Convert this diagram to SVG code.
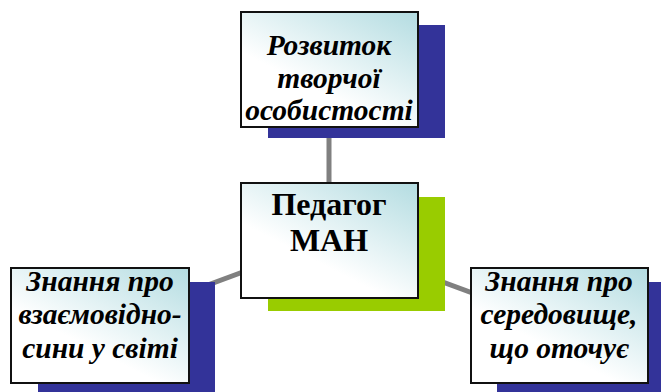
<svg xmlns="http://www.w3.org/2000/svg" width="661" height="392" viewBox="0 0 661 392">
<defs>
<linearGradient id="g" x1="1" y1="0" x2="0.45" y2="0.7">
<stop offset="0" stop-color="#b3dce1"/>
<stop offset="1" stop-color="#ffffff"/>
</linearGradient>
<style>
.box{fill:url(#g);stroke:#111;stroke-width:2}
.blue{fill:#333399}
.green{fill:#99cc00}
.t{font-family:"Liberation Serif",serif;font-weight:bold;font-style:italic;font-size:29.5px;text-anchor:middle;fill:#000}
.c{font-family:"Liberation Serif",serif;font-weight:bold;font-size:32px;text-anchor:middle;fill:#000}
.ln{stroke:#808080;stroke-width:5;fill:none}
</style>
</defs>
<rect width="661" height="392" fill="#fff"/>
<g id="connectors">
<line class="ln" x1="329" y1="70" x2="329" y2="240"/>
<line class="ln" x1="329" y1="240" x2="100" y2="325"/>
<line class="ln" x1="329" y1="240" x2="559" y2="325"/>
</g>
<g id="top">
<rect class="blue" x="268" y="25" width="177" height="113"/>
<rect class="box" x="241" y="12" width="177" height="115"/>
<text class="t" x="329" y="55">Розвиток</text>
<text class="t" x="329" y="88">творчої</text>
<text class="t" x="329" y="120">особистості</text>
</g>
<g id="center">
<rect class="green" x="268" y="197" width="177" height="114"/>
<rect class="box" x="241" y="183" width="177" height="115"/>
<text class="c" x="329" y="215">Педагог</text>
<text class="c" x="329" y="251">МАН</text>
</g>
<g id="left">
<rect class="blue" x="38" y="282" width="177" height="110"/>
<rect class="box" x="11" y="268" width="178" height="115"/>
<text class="t" x="100" y="291">Знання про</text>
<text class="t" x="100" y="324">взаємовідно-</text>
<text class="t" x="100" y="358">сини у світі</text>
</g>
<g id="right">
<rect class="blue" x="497" y="282" width="164" height="110"/>
<rect class="box" x="471" y="268" width="177" height="115"/>
<text class="t" x="559" y="291">Знання про</text>
<text class="t" x="559" y="324">середовище,</text>
<text class="t" x="559" y="358">що оточує</text>
</g>
</svg>
